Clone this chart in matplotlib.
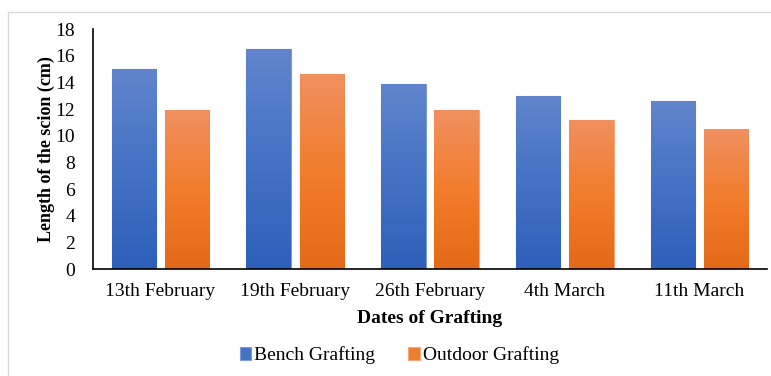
import matplotlib
matplotlib.use("Agg")
import matplotlib.pyplot as plt
import numpy as np
from matplotlib.colors import LinearSegmentedColormap
from matplotlib.patches import Rectangle

categories = ["13th February", "19th February", "26th February", "4th March", "11th March"]
bench = [15.0, 16.5, 13.9, 13.0, 12.6]
outdoor = [11.9, 14.6, 11.9, 11.2, 10.5]
series_names = ["Bench Grafting", "Outdoor Grafting"]
yticks = [0, 2, 4, 6, 8, 10, 12, 14, 16, 18]

plt.rcParams['font.family'] = ['Liberation Serif', 'DejaVu Serif']

fig = plt.figure(figsize=(7.71, 3.76), dpi=100)
ax = fig.add_axes([93/771, 1-269/376, (767-93)/771, (269-29)/376])

x = np.arange(len(categories))
w = 0.33
gap = 0.065
blue_cm = LinearSegmentedColormap.from_list("b", ["#2E60BA", "#4472C4", "#6185CD"])
orange_cm = LinearSegmentedColormap.from_list("o", ["#E36A17", "#F27D2C", "#F09060"])

b1 = ax.bar(x - (w+gap)/2, bench, w, color="#4472C4", edgecolor="#7D9BD8", linewidth=0.8, label=series_names[0])
b2 = ax.bar(x + (w+gap)/2, outdoor, w, color="#ED7D31", edgecolor="#F5A77A", linewidth=0.8, label=series_names[1])

grad = np.linspace(0, 1, 256).reshape(-1, 1)
for bars, cm in ((b1, blue_cm), (b2, orange_cm)):
    for bar in bars:
        x0, y0 = bar.get_x(), bar.get_y()
        bw, bh = bar.get_width(), bar.get_height()
        im = ax.imshow(grad, cmap=cm, origin="lower", aspect="auto",
                       extent=[x0, x0+bw, y0, y0+bh], zorder=bar.get_zorder()+0.1)
        im.set_clip_path(bar)

ax.set_xlim(-0.5, len(categories)-0.5)
ax.set_ylim(0, 18)
ax.set_yticks(yticks)
ax.set_xticks(x)
ax.set_xticklabels(categories, fontsize=14)
ax.tick_params(axis='y', labelsize=14, length=0, pad=13)
ax.tick_params(axis='x', length=0, pad=10)
for s in ("top", "right"):
    ax.spines[s].set_visible(False)
ax.spines["left"].set_color("black")
ax.spines["bottom"].set_color("black")
ax.spines["left"].set_linewidth(1.2)
ax.spines["bottom"].set_linewidth(1.2)
ax.set_ylabel("Length of the scion (cm)", fontsize=13, fontweight="bold", labelpad=0)
ax.set_xlabel("Dates of Grafting", fontsize=14, fontweight="bold", labelpad=7)

fig.legend(handles=[b1, b2], labels=series_names, loc="center", ncol=2,
           bbox_to_anchor=(0.518, 0.055), frameon=False, fontsize=14,
           handlelength=0.6, handleheight=0.6, handletextpad=0.15, columnspacing=1.7)

fig.patches.append(Rectangle((8/771, -0.01), 1.0, 1-12/376+0.01, transform=fig.transFigure,
                             fill=False, edgecolor="#D9D9D9", linewidth=1.0))

fig.savefig("out.png", dpi=100)
